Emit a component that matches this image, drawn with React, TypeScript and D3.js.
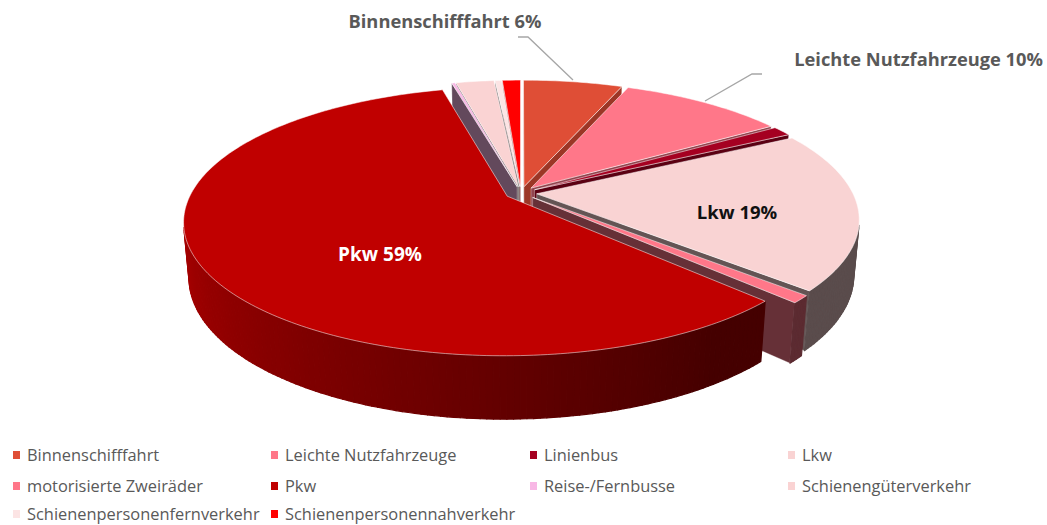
import * as d3 from "d3"

// Anteile in Prozent (aus dem Bild geschätzt), Reihenfolge wie in der Legende
const categories = [
  "Binnenschifffahrt",
  "Leichte Nutzfahrzeuge",
  "Linienbus",
  "Lkw",
  "motorisierte Zweiräder",
  "Pkw",
  "Reise-/Fernbusse",
  "Schienengüterverkehr",
  "Schienenpersonenfernverkehr",
  "Schienenpersonennahverkehr",
]
const shares = [6.0, 10.0, 1.2, 19.3, 0.9, 58.6, 0.2, 2.3, 0.4, 1.1]
const colors = [
  "#DF4E36",
  "#FF7789",
  "#A50021",
  "#F9D3D3",
  "#FF7789",
  "#C00000",
  "#F8B7E5",
  "#FAD3D3",
  "#FCE4E4",
  "#FF0000",
]

const W = 1047
const H = 525

// 3D-Projektion
const CX = 521
const CY = 193
const TILT = (24 * Math.PI) / 180
const K = 0.186
const SCALE = 316
const DIST = Math.cos(TILT) / K
const FOCAL = SCALE * DIST
const DEPTH = 0.19
const EXPLODE = 0.05
const CAM = [0, DIST * Math.sin(TILT), -DIST * Math.cos(TILT)]

type P3 = [number, number, number]

function project([x, y, z]: P3) {
  const d = DIST + z * Math.cos(TILT) - y * Math.sin(TILT)
  return {
    x: CX + (FOCAL * x) / d,
    y: CY - (FOCAL * (y * Math.cos(TILT) + z * Math.sin(TILT))) / d,
    d,
  }
}

function visible(n: P3, p: P3) {
  return n[0] * (CAM[0] - p[0]) + n[1] * (CAM[1] - p[1]) + n[2] * (CAM[2] - p[2]) > 0
}

const shade = (base: string, f: number) => d3.interpolateRgb("#000000", base)(f)

interface Face {
  pts: P3[]
  fill: string
  stroke: string
  strokeOpacity: number
  strokeWidth: number
  depth: number
}

const arcs = d3
  .pie<number>()
  .value((d) => d)
  .sort(null)(shares)

const sides: Face[] = []
const tops: Face[] = []

arcs.forEach((a, i) => {
  const a0 = a.startAngle
  const a1 = a.endAngle
  const mid = (a0 + a1) / 2
  const ox = EXPLODE * Math.sin(mid)
  const oz = EXPLODE * Math.cos(mid)
  const rim = (t: number, y: number): P3 => [ox + Math.sin(t), y, oz + Math.cos(t)]
  const c = (y: number): P3 => [ox, y, oz]
  const n = Math.max(2, Math.ceil((a1 - a0) / (Math.PI / 180)))
  const ts = d3.range(n + 1).map((j) => a0 + ((a1 - a0) * j) / n)
  const avgDepth = (pts: P3[]) => d3.mean(pts, (p) => project(p).d) ?? 0

  // Deckfläche
  tops.push({
    pts: [c(0), ...ts.map((t) => rim(t, 0))],
    fill: colors[i],
    stroke: "#ffffff",
    strokeOpacity: 0.65,
    strokeWidth: 0.8,
    depth: 0,
  })

  // Mantelfläche in Segmenten (Helligkeit je nach Richtung)
  for (let j = 0; j < n; j++) {
    const m = (ts[j] + ts[j + 1]) / 2
    if (!visible([Math.sin(m), 0, Math.cos(m)], rim(m, -DEPTH / 2))) continue
    const deg = (m * 180) / Math.PI
    const f = Math.max(0.36, Math.min(0.88, 0.31 + (deg - 135) * 0.00458))
    const fill = shade(colors[i], f)
    const pts: P3[] = [rim(ts[j], 0), rim(ts[j + 1], 0), rim(ts[j + 1], -DEPTH), rim(ts[j], -DEPTH)]
    sides.push({ pts, fill, stroke: fill, strokeOpacity: 1, strokeWidth: 1.2, depth: avgDepth(pts) })
  }

  // Schnittflächen
  const radial = (t: number, nrm: P3) => {
    const pts: P3[] = [c(0), rim(t, 0), rim(t, -DEPTH), c(-DEPTH)]
    const centroid: P3 = [ox + Math.sin(t) / 2, -DEPTH / 2, oz + Math.cos(t) / 2]
    if (!visible(nrm, centroid)) return
    const f = 0.4 + 0.32 * Math.max(0, nrm[0])
    sides.push({
      pts,
      fill: shade(colors[i], f),
      stroke: "#ffffff",
      strokeOpacity: 0.45,
      strokeWidth: 0.7,
      depth: avgDepth(pts),
    })
  }
  radial(a0, [-Math.cos(a0), 0, Math.sin(a0)])
  radial(a1, [Math.cos(a1), 0, -Math.sin(a1)])
})

sides.sort((p, q) => q.depth - p.depth)

const toPath = d3
  .line<P3>()
  .x((p) => project(p).x)
  .y((p) => project(p).y)
  .curve(d3.curveLinearClosed)

// Legende
const legendCols = [13, 271, 530, 788]
const legendRows = [455, 486, 514]

export default function App() {
  return (
    <svg
      width={W}
      height={H}
      style={{ position: "absolute", left: 0, top: 0, background: "#fff" }}
      fontFamily="'Open Sans', sans-serif"
    >
      {[...sides, ...tops].map((f, i) => (
        <path
          key={i}
          d={toPath(f.pts) ?? ""}
          fill={f.fill}
          stroke={f.stroke}
          strokeOpacity={f.strokeOpacity}
          strokeWidth={f.strokeWidth}
          strokeLinejoin="round"
        />
      ))}

      {/* Beschriftungen */}
      <polyline points="518,37 528,37 573,80" fill="none" stroke="#A6A6A6" strokeWidth={1.3} />
      <polyline points="762,74 752,74 705,101" fill="none" stroke="#A6A6A6" strokeWidth={1.3} />
      <text x={445} y={28} textAnchor="middle" fontSize={18.3} fontWeight={700} fill="#595959">
        {categories[0]} {Math.round(shares[0])}%
      </text>
      <text x={1043} y={66} textAnchor="end" fontSize={18.3} fontWeight={700} fill="#595959">
        {categories[1]} {Math.round(shares[1])}%
      </text>
      <text x={737} y={219} textAnchor="middle" fontSize={18.5} fontWeight={700} fill="#111">
        {categories[3]} {Math.round(shares[3])}%
      </text>
      <text x={380} y={261} textAnchor="middle" fontSize={19} fontWeight={700} fill="#fff">
        {categories[5]} {Math.round(shares[5])}%
      </text>

      {categories.map((cat, i) => {
        const x = legendCols[i % 4]
        const y = legendRows[Math.floor(i / 4)]
        return (
          <g key={cat} transform={`translate(${x},${y})`}>
            <rect x={0} y={-4} width={7} height={8} fill={colors[i]} />
            <text x={14} y={5.5} fontSize={16.4} fill="#595959">
              {cat}
            </text>
          </g>
        )
      })}
    </svg>
  )
}
